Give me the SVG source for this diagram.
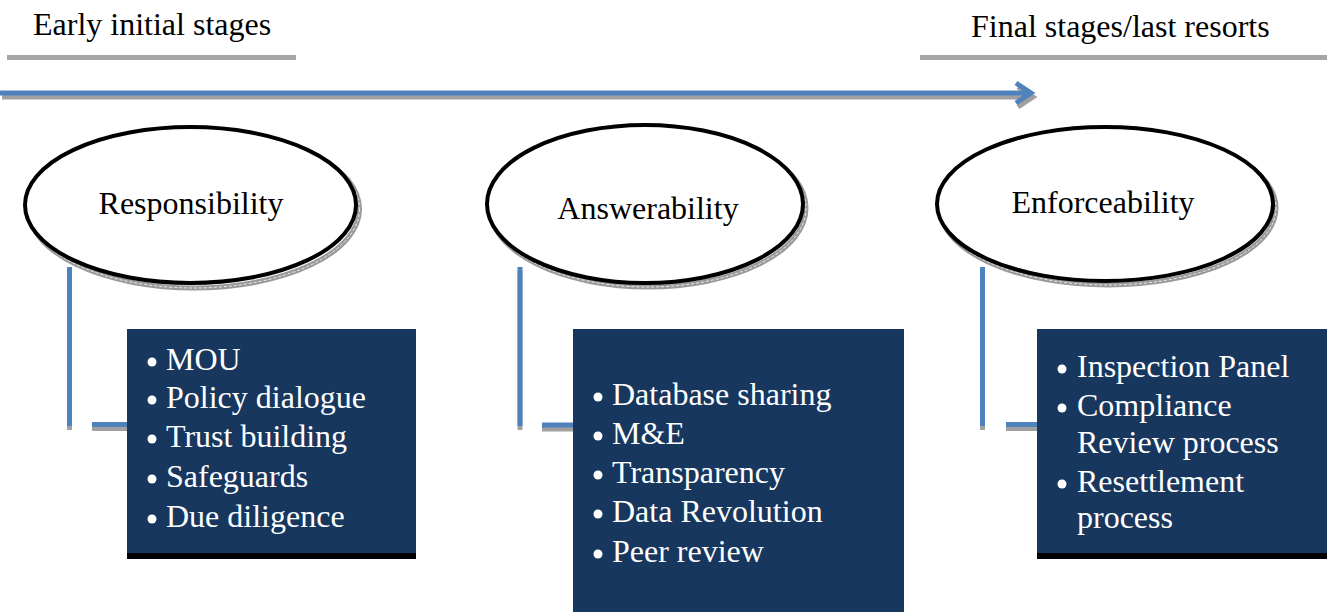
<svg xmlns="http://www.w3.org/2000/svg" width="1327" height="612" viewBox="0 0 1327 612">
  <style>
    .lbl { font-family: "Liberation Serif", "Times New Roman", serif; font-size: 32px; fill: #000; }
    .item { font-family: "Liberation Serif", "Times New Roman", serif; font-size: 32px; fill: #fff; }
    .rule { stroke: #a6a6a6; stroke-width: 5; }
    .oval { fill: #fff; stroke: #000; stroke-width: 4; }
    .oval-sh { fill: none; stroke: #9a9a9a; stroke-width: 5; }
    .oval-sh2 { fill: none; stroke: #fff; stroke-width: 0.8; stroke-dasharray: 3 2; }
    .box { fill: #17375e; }
    .box-edge { fill: #000; }
    .dot { fill: #fff; }
    .link { stroke: #4f81bd; stroke-width: 5; fill: none; }
    .link-sh { stroke: #a0a0a0; stroke-width: 5; fill: none; }
  </style>

  <!-- stage headings -->
  <g id="heading-early">
    <text class="lbl" x="33" y="35">Early initial stages</text>
    <line class="rule" x1="7" y1="57.5" x2="296" y2="57.5"/>
  </g>
  <g id="heading-final">
    <text class="lbl" x="971" y="37">Final stages/last resorts</text>
    <line class="rule" x1="920" y1="57.5" x2="1327" y2="57.5"/>
  </g>

  <!-- timeline arrow -->
  <g id="timeline">
    <g transform="translate(2,4)">
      <line class="link-sh" x1="0" y1="93" x2="1030" y2="93" stroke-width="6"/>
      <polyline class="link-sh" points="1016,83 1031,93 1016,103" stroke-width="7" stroke-linejoin="miter"/>
    </g>
    <line class="link" x1="0" y1="93" x2="1030" y2="93" stroke-width="6"/>
    <polyline class="link" points="1016,83 1031,93 1016,103" stroke-width="7" stroke-linejoin="miter"/>
  </g>

  <!-- connectors from each oval to its list -->
  <g id="connectors">
    <g transform="translate(0,4)">
      <line class="link-sh" x1="69.5" y1="267" x2="69.5" y2="426"/>
      <line class="link-sh" x1="92" y1="424.5" x2="127" y2="424.5"/>
      <line class="link-sh" x1="520" y1="267" x2="520" y2="426"/>
      <line class="link-sh" x1="542" y1="425" x2="573" y2="425"/>
      <line class="link-sh" x1="982.5" y1="267" x2="982.5" y2="426"/>
      <line class="link-sh" x1="1006" y1="424.5" x2="1037" y2="424.5"/>
    </g>
    <line class="link" x1="69.5" y1="267" x2="69.5" y2="426"/>
    <line class="link" x1="92" y1="424.5" x2="127" y2="424.5"/>
    <line class="link" x1="520" y1="267" x2="520" y2="426"/>
    <line class="link" x1="542" y1="425" x2="573" y2="425"/>
    <line class="link" x1="982.5" y1="267" x2="982.5" y2="426"/>
    <line class="link" x1="1006" y1="424.5" x2="1037" y2="424.5"/>
  </g>

  <!-- ovals -->
  <g id="responsibility">
    <ellipse class="oval-sh" cx="194" cy="209" rx="165.5" ry="79"/>
    <ellipse class="oval-sh2" cx="194" cy="209" rx="165.5" ry="79"/>
    <ellipse class="oval" cx="190.5" cy="205" rx="165.5" ry="78"/>
    <text class="lbl" x="191" y="214" text-anchor="middle">Responsibility</text>
  </g>
  <g id="answerability">
    <ellipse class="oval-sh" cx="648" cy="208" rx="158" ry="79"/>
    <ellipse class="oval-sh2" cx="648" cy="208" rx="158" ry="79"/>
    <ellipse class="oval" cx="645" cy="204" rx="158" ry="79"/>
    <text class="lbl" x="648" y="219" text-anchor="middle">Answerability</text>
  </g>
  <g id="enforceability">
    <ellipse class="oval-sh" cx="1108" cy="208" rx="168" ry="77"/>
    <ellipse class="oval-sh2" cx="1108" cy="208" rx="168" ry="77"/>
    <ellipse class="oval" cx="1105" cy="204" rx="168" ry="77"/>
    <text class="lbl" x="1103" y="213" text-anchor="middle">Enforceability</text>
  </g>

  <!-- lists -->
  <g id="list-responsibility">
    <rect class="box-edge" x="127" y="329" width="289" height="230"/>
    <rect class="box" x="127" y="329" width="289" height="224"/>
    <circle class="dot" cx="152" cy="362" r="4.5"/>
    <circle class="dot" cx="152" cy="400" r="4.5"/>
    <circle class="dot" cx="152" cy="439" r="4.5"/>
    <circle class="dot" cx="152" cy="479" r="4.5"/>
    <circle class="dot" cx="152" cy="519" r="4.5"/>
    <text class="item" x="166" y="370">MOU</text>
    <text class="item" x="166" y="408">Policy dialogue</text>
    <text class="item" x="166" y="447">Trust building</text>
    <text class="item" x="166" y="487">Safeguards</text>
    <text class="item" x="166" y="527">Due diligence</text>
  </g>
  <g id="list-answerability">
    <rect class="box" x="573" y="329" width="331" height="283"/>
    <circle class="dot" cx="598" cy="397" r="4.5"/>
    <circle class="dot" cx="598" cy="436" r="4.5"/>
    <circle class="dot" cx="598" cy="475" r="4.5"/>
    <circle class="dot" cx="598" cy="514" r="4.5"/>
    <circle class="dot" cx="598" cy="554" r="4.5"/>
    <text class="item" x="612" y="405">Database sharing</text>
    <text class="item" x="612" y="444">M&amp;E</text>
    <text class="item" x="612" y="483">Transparency</text>
    <text class="item" x="612" y="522">Data Revolution</text>
    <text class="item" x="612" y="562">Peer review</text>
  </g>
  <g id="list-enforceability">
    <rect class="box-edge" x="1037" y="329" width="290" height="230"/>
    <rect class="box" x="1037" y="329" width="290" height="224"/>
    <circle class="dot" cx="1062" cy="369" r="4.5"/>
    <circle class="dot" cx="1062" cy="408" r="4.5"/>
    <circle class="dot" cx="1062" cy="484" r="4.5"/>
    <text class="item" x="1077" y="377">Inspection Panel</text>
    <text class="item" x="1077" y="416">Compliance</text>
    <text class="item" x="1077" y="453">Review process</text>
    <text class="item" x="1077" y="492">Resettlement</text>
    <text class="item" x="1077" y="528">process</text>
  </g>
</svg>
